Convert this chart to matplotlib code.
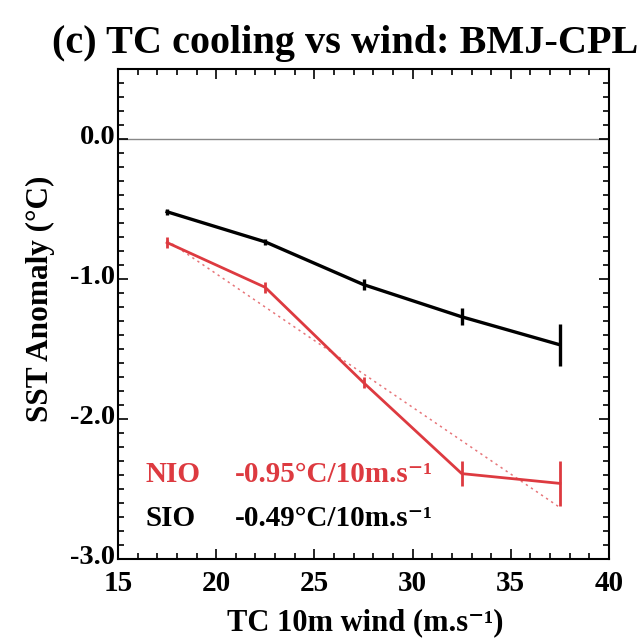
import numpy as np
import matplotlib
matplotlib.use('Agg')
import matplotlib.pyplot as plt
from matplotlib.ticker import MultipleLocator, FuncFormatter
from matplotlib.transforms import ScaledTranslation

# TC 10m wind bins (m/s) and SST anomaly (degC) with error bars
wind = [17.5, 22.5, 27.5, 32.5, 37.5]
nio_sst = [-0.74, -1.06, -1.74, -2.39, -2.46]
nio_err = [0.04, 0.04, 0.04, 0.09, 0.16]
sio_sst = [-0.52, -0.735, -1.04, -1.27, -1.47]
sio_err = [0.02, 0.02, 0.04, 0.06, 0.15]

title = '(c) TC cooling vs wind: BMJ-CPL'
nio_label = 'NIO'
sio_label = 'SIO'
nio_slope = '-0.95°C/10m.s⁻¹'
sio_slope = '-0.49°C/10m.s⁻¹'

red = '#dd3a40'

plt.rcParams['font.family'] = ['Liberation Serif', 'DejaVu Serif']
plt.rcParams['axes.unicode_minus'] = False

fig = plt.figure(figsize=(6.41, 6.41), dpi=100)
ax = fig.add_axes([118/641, 1-559/641, 491/641, 490/641])

ax.axhline(0.0, color='#888888', lw=1.0, zorder=1)

# regression line through NIO points
fit = np.polyfit(wind, nio_sst, 1)
ax.plot(wind, np.polyval(fit, wind), color=red, lw=1.1, ls=(0, (1.5, 2.5)), alpha=0.7)

ax.errorbar(wind, sio_sst, yerr=sio_err, color='black', lw=2.4,
            elinewidth=2.4, capsize=0)
ax.errorbar(wind, nio_sst, yerr=nio_err, color=red, lw=2.0,
            elinewidth=2.0, capsize=0)

ax.set_xlim(15, 40)
ax.set_ylim(-3.0, 0.5)
ax.xaxis.set_major_locator(MultipleLocator(5))
ax.xaxis.set_minor_locator(MultipleLocator(1))
ax.yaxis.set_minor_locator(MultipleLocator(0.1))
ax.set_yticks([0.0, -1.0, -2.0, -3.0])
ax.yaxis.set_major_formatter(FuncFormatter(lambda v, p: '%.1f' % v))

ax.tick_params(which='both', direction='in', top=True, right=True, width=1.2)
ax.tick_params(which='major', length=7)
ax.tick_params(which='minor', length=4)
ax.tick_params(axis='x', pad=8, labelsize=21)
ax.tick_params(axis='y', pad=2, labelsize=20.5)
for lab in ax.get_xticklabels() + ax.get_yticklabels():
    lab.set_fontweight('bold')
# y tick labels sit a little above their ticks in the original
shift_up = ScaledTranslation(0, 4/100, fig.dpi_scale_trans)
for lab in ax.get_yticklabels():
    lab.set_transform(lab.get_transform() + shift_up)
for sp in ax.spines.values():
    sp.set_linewidth(1.5)

ax.text(0.055, 0.157, nio_label, color=red, fontsize=21, fontweight='bold',
        transform=ax.transAxes, va='baseline')
ax.text(0.238, 0.157, nio_slope, color=red, fontsize=21, fontweight='bold',
        transform=ax.transAxes, va='baseline')
ax.text(0.055, 0.067, sio_label, color='black', fontsize=21, fontweight='bold',
        transform=ax.transAxes, va='baseline')
ax.text(0.238, 0.067, sio_slope, color='black', fontsize=21, fontweight='bold',
        transform=ax.transAxes, va='baseline')

fig.text(52/641, 1-53/641, title, fontsize=29, fontweight='bold',
         ha='left', va='baseline')
fig.text(365/641, 1-630/641, 'TC 10m wind (m.s⁻¹)',
         fontsize=22, fontweight='bold', ha='center', va='baseline')
fig.text(40/641, 1-299/641, 'SST Anomaly (°C)', fontsize=22.5, fontweight='bold',
         rotation=90, ha='center', va='center')

fig.savefig('out.png', dpi=100)
